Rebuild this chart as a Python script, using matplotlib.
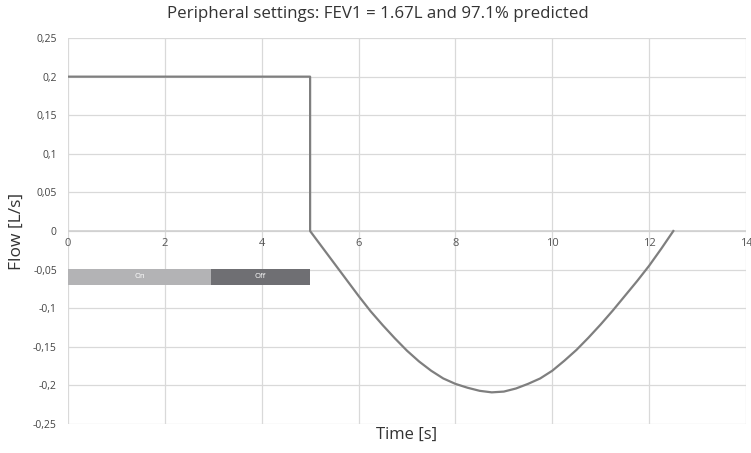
import matplotlib.pyplot as plt
import numpy as np

plt.rcParams['font.family'] = ['Open Sans', 'DejaVu Sans']

# flow trace: hold at 0.2 L/s, cut at 5 s, then the return dip
time_s = [0, 5, 5, 5.25, 5.5, 5.75, 6, 6.25, 6.5, 6.75, 7, 7.25, 7.5, 7.75, 8, 8.25, 8.5,
          8.75, 9, 9.25, 9.5, 9.75, 10, 10.25, 10.5, 10.75, 11, 11.25, 11.5, 11.75, 12,
          12.25, 12.5]
flow_ls = [0.2, 0.2, 0, -0.021, -0.042, -0.063, -0.084, -0.104, -0.122, -0.139, -0.155,
           -0.169, -0.181, -0.191, -0.198, -0.203, -0.207, -0.209, -0.208, -0.204, -0.198,
           -0.191, -0.181, -0.168, -0.154, -0.138, -0.121, -0.103, -0.084, -0.065, -0.045,
           -0.023, 0]

# valve state bar
phases = ["On", "Off"]
phase_start = [0, 2.95]
phase_len = [2.95, 2.05]
phase_colors = ["#b3b3b5", "#6f6f73"]

xticks = [0, 2, 4, 6, 8, 10, 12, 14]
yticks = [-0.25, -0.2, -0.15, -0.1, -0.05, 0, 0.05, 0.1, 0.15, 0.2, 0.25]

fig = plt.figure(figsize=(7.51, 4.53), dpi=100)
ax = fig.add_axes([0.0905, 0.064, 0.9028, 0.852])

ax.set_xlim(0, 14)
ax.set_ylim(-0.25, 0.25)
ax.set_xticks(xticks)
ax.set_yticks(yticks)
ax.set_yticklabels([("%g" % v).replace(".", ",") for v in yticks], fontsize=7.5, color="#444444")
ax.grid(True, color="#d9d9d9", linewidth=0.9)
ax.set_axisbelow(True)
for s in ax.spines.values():
    s.set_visible(False)
ax.tick_params(length=0)
ax.tick_params(axis="x", labelbottom=False)
ax.tick_params(axis="y", pad=8)

# x tick labels sit under the zero line
for t in xticks:
    ax.text(t, -0.009, str(t), ha="center", va="top", fontsize=8, color="#555555")
ax.axhline(0, color="#d0d0d0", linewidth=1.2, zorder=1)

for name, x0, w, c in zip(phases, phase_start, phase_len, phase_colors):
    ax.barh(-0.0595, w, left=x0, height=0.021, color=c, zorder=3)
    ax.text(x0 + w / 2, -0.0595, name, ha="center", va="center", fontsize=5.5,
            color="white", zorder=4)

ax.plot(time_s, flow_ls, color="#7f7f7f", linewidth=1.6, zorder=5)

ax.set_xlabel("Time [s]", fontsize=12, color="#333333", labelpad=2)
ax.set_ylabel("Flow [L/s]", fontsize=12.5, color="#333333", labelpad=6)
fig.text(0.503, 0.968, "Peripheral settings: FEV1 = 1.67L and 97.1% predicted",
         ha="center", va="center", fontsize=12.2, color="#333333")

fig.savefig("out.png", dpi=100)
